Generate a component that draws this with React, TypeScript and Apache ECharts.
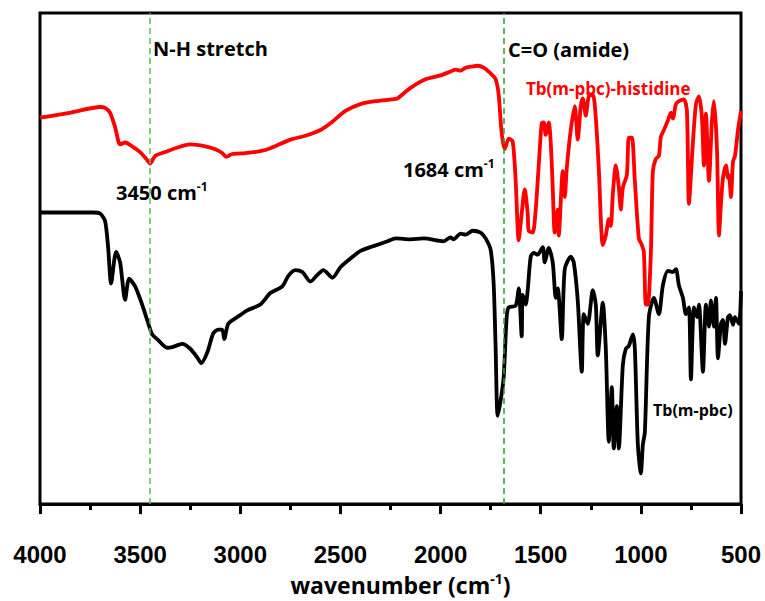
import React, { useEffect, useRef } from "react";
import * as echarts from "echarts";

const xTicks = [4000, 3500, 3000, 2500, 2000, 1500, 1000, 500];

const blackWavenumber = [4000,3735,3700,3675,3660,3645,3620,3600,3575,3555,3525,3490,3465,3440,3415,3365,3335,3290,3250,3215,3195,3165,3135,3110,3090,3080,3060,3015,2965,2900,2850,2790,2760,2725,2690,2650,2615,2585,2540,2500,2450,2400,2335,2265,2225,2150,2085,1985,1950,1935,1900,1875,1840,1800,1775,1750,1735,1725,1715,1700,1685,1670,1660,1625,1610,1595,1590,1575,1565,1550,1535,1515,1490,1480,1460,1440,1425,1415,1395,1380,1350,1335,1315,1295,1285,1265,1240,1225,1215,1190,1175,1160,1145,1135,1120,1110,1090,1075,1060,1040,1030,1015,1000,990,980,960,935,910,890,865,840,825,810,790,775,760,750,735,720,710,690,675,660,650,635,625,615,600,590,580,565,555,540,530,510,500];
const blackTransmittance = [60.8,60.8,60.6,59,53.6,46,52.6,50.4,42.6,47,45.4,41.6,38.4,35.4,34.4,32.6,32.8,33.4,32.4,30.6,29.4,31.6,35.6,36.4,36.4,34.4,37.6,39,40.4,41.6,44,45.4,47.6,48.8,48.4,46.4,47.8,48.8,47.2,49.4,51.2,52.8,53.8,54.8,55.4,55.2,55.4,54.8,55.6,55.2,56.4,56.2,57,56.6,55.4,53,46,32.4,18.4,21.6,26.4,39,41,41.4,45,35,43.6,41.6,44.6,51.6,52.4,52,53.6,50.4,53.4,50.4,43,45,34.4,49,51.6,50.4,42.4,27.6,39.6,37.6,44.6,41.6,31,42,32.4,13,24.4,11.6,20.4,11.6,29,32.4,33,35.4,32.4,12.4,6.4,12.4,15,39,43,39.6,45.6,48.6,48.4,49,45.6,43,39.6,41,26,41,39,41.6,27.6,41.6,37,42.4,37,43,30.4,37.6,38.4,33.4,39,39.4,37.4,39,37.6,44.4];

const redWavenumber = [4000,3850,3700,3675,3650,3625,3600,3575,3540,3500,3470,3450,3425,3375,3325,3250,3175,3125,3090,3070,3040,2975,2900,2850,2750,2675,2600,2550,2475,2400,2325,2240,2215,2150,2075,2000,1950,1925,1900,1875,1850,1815,1785,1750,1725,1710,1695,1680,1660,1640,1625,1610,1595,1580,1565,1560,1540,1525,1510,1495,1485,1475,1460,1450,1440,1430,1415,1410,1390,1380,1370,1350,1330,1315,1300,1290,1275,1260,1240,1225,1210,1190,1175,1160,1150,1140,1125,1110,1100,1090,1070,1060,1045,1030,1010,995,985,975,965,950,940,925,910,900,885,865,850,840,825,810,785,770,760,740,725,710,695,685,675,660,645,635,620,610,600,590,575,565,560,550,540,530,515,500];
const redTransmittance = [80.6,81.6,82.8,82.6,81.6,78.6,75,75.4,74.6,73.4,72,71,72.6,73.4,74.2,75,74.6,74,73.2,72.4,73,73.2,73.6,74.2,76,76.8,78,79.4,82,83.4,84,84.4,84.6,86.8,88.6,89.4,90.2,90.6,90.4,91,91.2,91.4,91,89.8,88.6,85.4,77.4,74,76.2,75.6,67.4,55,60.6,65.6,60.6,57,56.6,61.4,70.6,79.4,79.6,77,79.6,75.4,66,56.6,61.4,56,69.4,64,70,78,83,76,83,84.6,81,85,85.4,80.6,70,54,56,59.4,58,64.6,70.6,66,61.4,66,68.6,76.4,76.4,67.4,55.4,54,52.6,41.6,41.6,52.4,69.4,72,72.6,76.6,78,80,81.6,80.4,83.4,84,84.4,82,62.6,75.4,83.4,85,80.6,70.6,81.4,67.4,80,84,74,56,62.6,68,70.6,68,68.6,64,71.4,72.6,78,82];

const markedPeaks = [3450, 1684];
const seriesNames = ["Tb(m-pbc)", "Tb(m-pbc)-histidine"];

function zip(a: number[], b: number[]) {
  const n = Math.min(a.length, b.length);
  const out: number[][] = [];
  for (let i = 0; i < n; i++) out.push([a[i], b[i]]);
  return out;
}

const calibri = "'Open Sans', Lato, sans-serif";

export default function App() {
  const ref = useRef<HTMLDivElement>(null);
  useEffect(() => {
    if (!ref.current) return;
    const chart = echarts.init(ref.current, null, { renderer: "svg" });
    const supRich = (size: number, color: string) => ({
      a: { fontFamily: calibri, fontWeight: "bold", fontSize: size, color, lineHeight: size + 4 },
      s: { fontFamily: calibri, fontWeight: "bold", fontSize: Math.round(size * 0.6), color, verticalAlign: "top", lineHeight: size + 4 },
    });
    chart.setOption({
      animation: false,
      backgroundColor: "#ffffff",
      grid: { left: 40, right: 24, top: 13, bottom: 76, show: true, borderColor: "#000", borderWidth: 3, backgroundColor: "transparent" },
      xAxis: {
        type: "value",
        inverse: true,
        min: 500,
        max: 4000,
        interval: 500,
        axisLine: { show: true, onZero: false, lineStyle: { color: "#000", width: 3 } },
        axisTick: { show: true, inside: false, length: 10, lineStyle: { color: "#000", width: 3 } },
        minorTick: { show: true, splitNumber: 2, length: 6, lineStyle: { color: "#000", width: 3 } },
        splitLine: { show: false },
        axisLabel: {
          margin: 38,
          color: "#000",
          fontFamily: "'Liberation Sans', Arial, sans-serif",
          fontWeight: "bold",
          fontSize: 24,
          formatter: (v: number) => (xTicks.includes(v) ? String(v) : ""),
        },
        name: "{a|wavenumber (cm}{s|-1}{a|)}",
        nameLocation: "middle",
        nameGap: 65,
        nameTextStyle: { rich: supRich(23, "#000"), padding: [0, 0, 0, 20] },
      },
      yAxis: {
        type: "value",
        min: 0,
        max: 102.4,
        show: false,
        splitLine: { show: false },
      },
      series: [
        {
          name: seriesNames[0],
          type: "line",
          data: zip(blackWavenumber, blackTransmittance),
          showSymbol: false,
          smooth: 0.25,
          lineStyle: { color: "#000", width: 3.8 },
          z: 3,
          markLine: {
            silent: true,
            symbol: "none",
            label: { show: false },
            data: [
              { xAxis: markedPeaks[0], lineStyle: { color: "#5cb85c", type: [6, 4], width: 1.5 } },
              { xAxis: markedPeaks[1], lineStyle: { color: "#2ea02e", type: [6, 4], width: 1.5 } },
            ],
          },
        },
        {
          name: seriesNames[1],
          type: "line",
          data: zip(redWavenumber, redTransmittance),
          showSymbol: false,
          smooth: 0.25,
          lineStyle: { color: "#ff0000", width: 3.8 },
          z: 4,
        },
      ],
      graphic: [
        { type: "text", x: 153, y: 48, style: { text: "N-H stretch", fontFamily: calibri, fontWeight: "bold", fontSize: 20, fill: "#000", verticalAlign: "middle" } },
        { type: "text", x: 508, y: 49, style: { text: "C=O (amide)", fontFamily: calibri, fontWeight: "bold", fontSize: 20, fill: "#000", verticalAlign: "middle" } },
        { type: "text", x: 526, y: 88, style: { text: seriesNames[1], fontFamily: calibri, fontWeight: "bold", fontSize: 17, fill: "#ff0000", verticalAlign: "middle" } },
        { type: "text", x: 653, y: 410, style: { text: seriesNames[0], fontFamily: calibri, fontWeight: "bold", fontSize: 16, fill: "#000", verticalAlign: "middle" } },
        { type: "text", x: 116, y: 192, style: { text: "{a|3450 cm}{s|-1}", rich: supRich(20, "#000"), verticalAlign: "middle" } },
        { type: "text", x: 403, y: 169, style: { text: "{a|1684 cm}{s|-1}", rich: supRich(20, "#000"), verticalAlign: "middle" } },
      ],
    });
    return () => chart.dispose();
  }, []);
  return (
    <div
      ref={ref}
      style={{ position: "fixed", left: 0, top: 0, width: 765, height: 601, background: "#fff" }}
    />
  );
}
